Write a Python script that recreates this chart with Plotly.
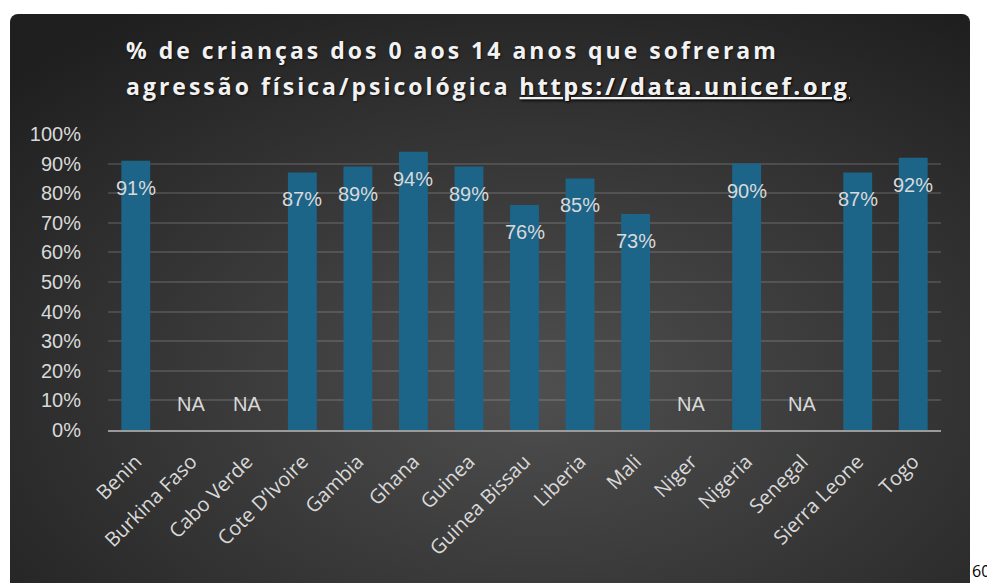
import base64
import plotly.graph_objects as go

# dados (% de crianças 0-14 anos, None = NA)
paises = ["Benin", "Burkina Faso", "Cabo Verde", "Cote D’Ivoire", "Gambia", "Ghana", "Guinea",
          "Guinea Bissau", "Liberia", "Mali", "Niger", "Nigeria", "Senegal", "Sierra Leone", "Togo"]
valores = [91, None, None, 87, 89, 94, 89, 76, 85, 73, None, 90, None, 87, 92]
y_ticks = list(range(0, 101, 10))
y_labels = [f"{v}%" for v in y_ticks]

W, H = 987, 583
L, R, T, B = 108, 46, 134, 153
pw, ph = W - L - R, H - T - B

def px_x(px):
    return (px - L) / pw

def px_y(py):
    return (H - B - py) / ph

# fundo escuro com gradiente radial
svg = ('<svg xmlns="http://www.w3.org/2000/svg" width="960" height="600" viewBox="0 0 960 600">'
       '<defs><radialGradient id="g" cx="0.55" cy="0.62" r="0.75">'
       '<stop offset="0" stop-color="#4f4f4f"/><stop offset="1" stop-color="#1f1f1f"/>'
       '</radialGradient></defs><rect width="960" height="600" rx="8" fill="url(#g)"/></svg>')
bg_src = "data:image/svg+xml;base64," + base64.b64encode(svg.encode()).decode()

fig = go.Figure()
fig.add_trace(go.Bar(
    x=paises, y=[v if v is not None else 0 for v in valores],
    marker=dict(color="#1d6489", line=dict(width=0)),
    width=0.52, hoverinfo="x+y",
))

annots = []
lbl_font = dict(family="Liberation Sans", size=20, color="#d9d9d9")
for p, v in zip(paises, valores):
    if v is None:
        annots.append(dict(x=p, y=0, text="NA", showarrow=False, yshift=26, font=lbl_font))
    else:
        annots.append(dict(x=p, y=v, text=f"{v}%", showarrow=False, yshift=-27, font=lbl_font))

title_font = dict(family="Open Sans", size=23, color="#f2f2f2", weight="bold",
                  shadow="1px 1px 2px rgba(0,0,0,0.6)")
sp = '<span style="letter-spacing:3px">'
annots.append(dict(xref="paper", yref="paper", x=px_x(124), y=px_y(50), xanchor="left", yanchor="middle",
                   showarrow=False, font=title_font,
                   text=sp + "% de crianças dos 0 aos 14 anos que sofreram</span>"))
annots.append(dict(xref="paper", yref="paper", x=px_x(124), y=px_y(86), xanchor="left", yanchor="middle",
                   showarrow=False, font=title_font,
                   text=sp + 'agressão física/psicológica <span style="text-decoration:underline">https://data.unicef.org</span></span>'))
annots.append(dict(xref="paper", yref="paper", x=px_x(970), y=px_y(571), xanchor="left", yanchor="middle",
                   showarrow=False, text="60", font=dict(family="Open Sans", size=16, color="#000000")))

fig.update_layout(
    width=W, height=H,
    margin=dict(l=L, r=R, t=T, b=B),
    paper_bgcolor="white", plot_bgcolor="rgba(0,0,0,0)",
    showlegend=False,
    annotations=annots,
    images=[dict(source=bg_src, xref="paper", yref="paper", x=px_x(10), y=px_y(14),
                 sizex=960 / pw, sizey=600 / ph, xanchor="left", yanchor="top",
                 sizing="stretch", layer="below")],
    xaxis=dict(tickangle=-45, tickfont=dict(family="Open Sans", size=20, color="#d9d9d9"),
               showgrid=False, showline=True, linecolor="#9a9a9a", linewidth=2,
               ticks="", ticklabelstandoff=10, fixedrange=True),
    yaxis=dict(range=[0, 100], tickmode="array", tickvals=y_ticks, ticktext=y_labels,
               tickfont=dict(family="Liberation Sans", size=20, color="#d9d9d9"),
               gridcolor="rgba(255,255,255,0.13)", gridwidth=1.5, zeroline=False,
               ticks="outside", ticklen=22, tickcolor="rgba(0,0,0,0)", fixedrange=True),
)

# sem margem no body para a figura ocupar a janela toda
fig.write_html("out.html", config={"displayModeBar": False},
               post_script="document.body.style.margin='0';document.body.style.overflow='hidden';")
